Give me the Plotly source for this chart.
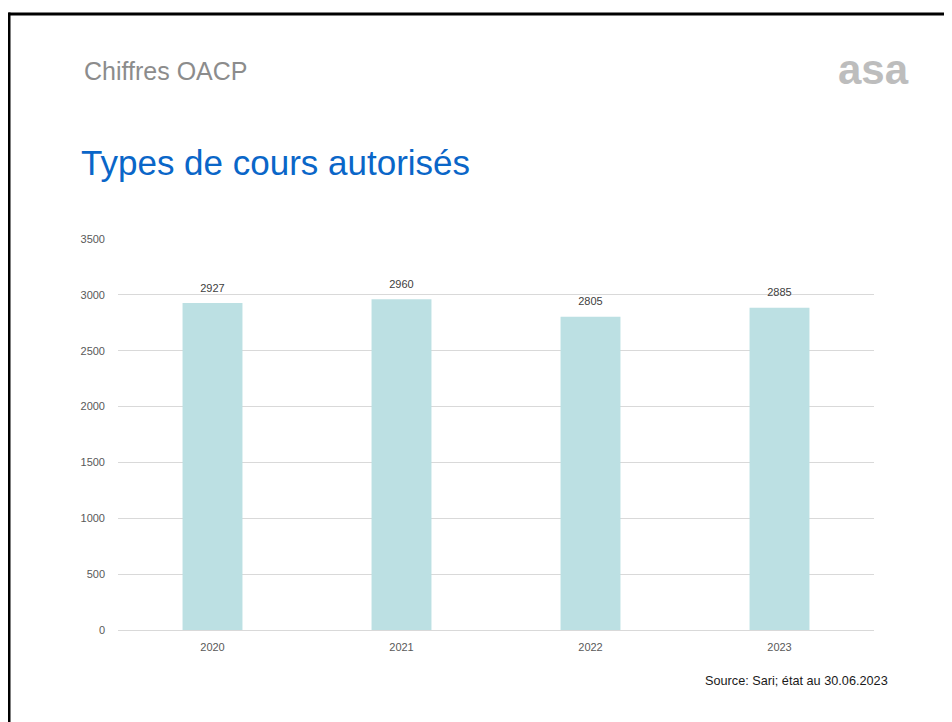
import plotly.graph_objects as go

years = ["2020", "2021", "2022", "2023"]
values = [2927, 2960, 2805, 2885]
y_ticks = [0, 500, 1000, 1500, 2000, 2500, 3000, 3500]

FONT = "Liberation Sans, Arial, sans-serif"

fig = go.Figure()
fig.add_trace(go.Bar(
    x=years, y=values,
    marker=dict(color="#BCE0E3", line=dict(width=0)),
    hoverinfo="x+y",
))
fig.add_trace(go.Scatter(
    x=years, y=values, mode="markers+text",
    marker=dict(size=12, color="rgba(0,0,0,0)"),
    text=[str(v) for v in values], textposition="top center",
    textfont=dict(size=11, color="#404040", family=FONT),
    cliponaxis=False, hoverinfo="skip",
))

# page has 8px body margin; figure coords are page coords minus 8
W, H = 944, 714
ml, mr, mt, mb = 110, 78, 231, 92

fig.update_layout(
    template="none",
    width=W, height=H,
    margin=dict(l=ml, r=mr, t=mt, b=mb, pad=0),
    paper_bgcolor="white", plot_bgcolor="white",
    bargap=0.683,
    showlegend=False,
    font=dict(family=FONT, color="#595959"),
    xaxis=dict(type="category", showgrid=False, showline=True, linecolor="#D9D9D9", linewidth=1,
               tickfont=dict(size=11, color="#595959"), ticks="", ticklabelstandoff=7),
    yaxis=dict(range=[0, 3500], tickvals=y_ticks, showgrid=True, gridcolor="#D9D9D9",
               gridwidth=1, zeroline=False, showline=False,
               tickfont=dict(size=11, color="#595959"), ticks="", ticklabelstandoff=12),
)

def px(x):
    return (x - 8 - ml) / (W - ml - mr)

def py(y):
    return (H - mb - (y - 8)) / (H - mt - mb)

# slide border
fig.add_shape(type="line", xref="paper", yref="paper", x0=px(8.5), x1=px(970), y0=py(14), y1=py(14),
              line=dict(color="black", width=3))
fig.add_shape(type="line", xref="paper", yref="paper", x0=px(9), x1=px(9), y0=py(12.5), y1=py(740),
              line=dict(color="black", width=3))

fig.add_annotation(text="Chiffres OACP", xref="paper", yref="paper", x=px(82), y=py(71),
                   xanchor="left", yanchor="middle", showarrow=False,
                   font=dict(size=25, color="#8C8C8C", family=FONT))
fig.add_annotation(text="asa", xref="paper", yref="paper", x=px(911), y=py(69),
                   xanchor="right", yanchor="middle", showarrow=False,
                   font=dict(size=42, color="#BDBDBD", family="Liberation Sans, Arial", weight="bold"))
fig.add_annotation(text="Types de cours autorisés", xref="paper", yref="paper", x=px(79), y=py(162),
                   xanchor="left", yanchor="middle", showarrow=False,
                   font=dict(size=35, color="#0A66C8", family=FONT))
fig.add_annotation(text="Source: Sari; état au 30.06.2023", xref="paper", yref="paper", x=px(890), y=py(681),
                   xanchor="right", yanchor="middle", showarrow=False,
                   font=dict(size=12.7, color="#1A1A1A", family=FONT))

fig.write_html("out.html")
